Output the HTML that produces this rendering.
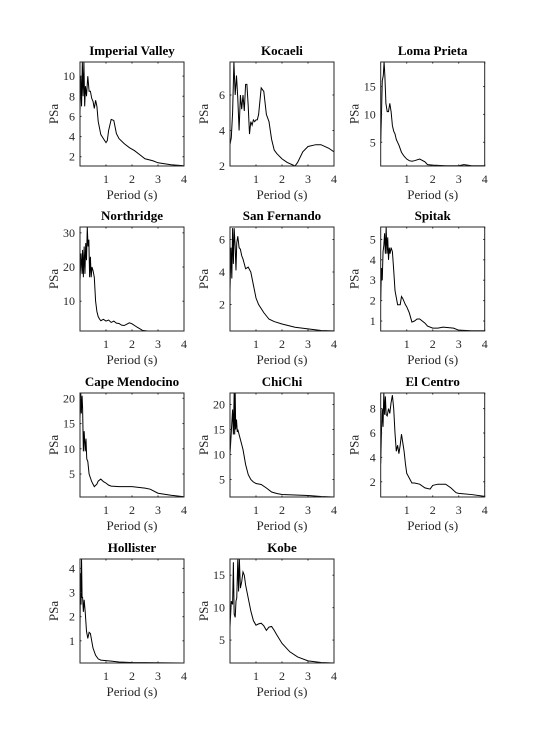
<!DOCTYPE html>
<html><head><meta charset="utf-8"><style>
html,body{margin:0;padding:0;background:#fff;}
svg{display:block;font-family:"Liberation Serif",serif;}
text{font-family:"Liberation Serif",serif;}
</style></head><body>
<svg id="fig" width="535" height="756" viewBox="0 0 535 756" xmlns="http://www.w3.org/2000/svg" font-family="Liberation Serif, serif"></svg>
<script>
const titles=["Imperial Valley","Kocaeli","Loma Prieta","Northridge","San Fernando","Spitak","Cape Mendocino","ChiChi","El Centro","Hollister","Kobe"];
const xTicks=[1,2,3,4];
const yRanges=[[1.08,11.4],[2,7.86],[0.75,19.4],[1.3,31.7],[0.37,6.77],[0.51,5.61],[0.45,21.05],[1.5,22.3],[0.75,9.28],[0.08,4.39],[1.47,17.5]];
const yTicks=[[2,4,6,8,10],[2,4,6],[5,10,15],[10,20,30],[2,4,6],[1,2,3,4,5],[5,10,15,20],[5,10,15,20],[2,4,6,8],[1,2,3,4],[5,10,15]];
const periodsIV=[0,0.03,0.06,0.09,0.12,0.15,0.18,0.21,0.25,0.3,0.35,0.4,0.45,0.5,0.55,0.6,0.65,0.7,0.8,0.9,1.0,1.05,1.1,1.2,1.3,1.4,1.5,1.7,1.9,2.1,2.3,2.5,2.8,3.0,3.5,4.0];
const psaIV=[6.4,10,7,11.4,8,11.4,7,9,8,10,8.5,8.5,7.8,7.5,6.8,7.6,7.0,5.5,4.2,3.8,3.4,3.6,4.6,5.7,5.6,4.3,3.8,3.3,2.9,2.6,2.2,1.8,1.6,1.4,1.2,1.1];
const periodsKO=[0,0.05,0.1,0.15,0.2,0.25,0.3,0.35,0.4,0.45,0.5,0.55,0.6,0.65,0.7,0.75,0.8,0.85,0.9,0.95,1.0,1.05,1.1,1.2,1.3,1.4,1.5,1.6,1.7,1.8,2.0,2.2,2.5,2.6,2.8,3.0,3.3,3.5,3.8,4.0];
const psaKO=[3.2,3.6,5,7.86,6,7.1,5.8,4,6,5.2,6.0,5.1,6.6,6.6,5.4,3.8,4.5,4.3,4.6,4.5,4.6,4.6,4.9,6.4,6.2,4.9,4.5,3.5,2.9,2.7,2.4,2.2,2.0,2.2,2.8,3.1,3.2,3.2,3.0,2.8];
const periodsLP=[0,0.03,0.06,0.1,0.13,0.16,0.2,0.25,0.3,0.35,0.4,0.45,0.5,0.55,0.6,0.65,0.7,0.8,0.9,1.0,1.1,1.2,1.3,1.5,1.7,1.8,2.0,2.5,3.0,3.2,3.5,4.0];
const psaLP=[5,10,16,17,19.4,17,12,10.5,10.5,12,10.5,8,7,6.5,5.5,5,4.5,3.2,2.5,2.0,1.7,1.6,1.7,2.0,1.5,1.0,0.9,0.8,0.8,1.0,0.8,0.8];
const periodsNR=[0,0.04,0.08,0.1,0.13,0.16,0.19,0.22,0.25,0.28,0.31,0.34,0.37,0.4,0.43,0.46,0.5,0.55,0.6,0.65,0.7,0.75,0.8,0.9,1.0,1.1,1.2,1.3,1.4,1.5,1.6,1.7,1.8,1.9,2.0,2.2,2.4,2.6,2.75,3.0,3.5,4.0];
const psaNR=[16,24,18,25,17,26,18,27,22,31.7,26,28,17,23,17,20,19,17,10,7,5.5,4.8,4.3,4.7,4.2,4.5,3.8,4.2,3.6,3.5,3.0,2.9,3.3,3.7,3.4,2.4,1.5,1.3,1.3,1.3,1.3,1.3];
const periodsSF=[0,0.04,0.07,0.1,0.13,0.16,0.2,0.23,0.26,0.3,0.35,0.4,0.45,0.5,0.6,0.7,0.8,0.9,1.0,1.1,1.3,1.5,1.7,2.0,2.5,3.0,3.5,4.0];
const psaSF=[2.8,5.5,3.6,6.7,4.5,6.7,5.5,4.1,5.8,6.2,5.5,5.4,5.0,4.8,4.2,4.3,4.0,3.2,2.4,2.0,1.5,1.1,0.95,0.8,0.6,0.5,0.4,0.38];
const periodsSP=[0,0.03,0.06,0.09,0.12,0.15,0.18,0.21,0.24,0.27,0.3,0.33,0.36,0.4,0.45,0.5,0.55,0.65,0.75,0.8,0.85,0.95,1.0,1.1,1.2,1.3,1.4,1.5,1.7,1.8,2.0,2.2,2.4,2.8,3.0,3.5,4.0];
const psaSP=[2,3.6,3,4.4,4.7,5.3,4.3,5.6,4.3,5.1,4.0,4.6,4.3,4.6,4.4,3.5,2.5,1.8,1.8,2.2,2.1,1.8,1.7,1.4,0.95,1.0,1.1,1.1,0.9,0.75,0.65,0.65,0.7,0.65,0.55,0.52,0.52];
const periodsCM=[0,0.03,0.05,0.08,0.1,0.13,0.16,0.2,0.23,0.26,0.3,0.35,0.45,0.55,0.65,0.7,0.8,0.9,1.0,1.1,1.2,1.5,2.0,2.5,2.7,3.0,3.5,4.0];
const psaCM=[16,21,17,20.5,18,9.5,13.5,9.5,12,8,7.5,5,3.5,2.5,3.0,3.6,4,3.5,3.2,2.8,2.6,2.5,2.5,2.2,2,1.2,0.8,0.5];
const periodsCC=[0,0.05,0.1,0.13,0.16,0.18,0.2,0.22,0.25,0.28,0.3,0.35,0.4,0.5,0.6,0.7,0.8,0.9,1.0,1.2,1.4,1.6,1.8,2.0,2.5,3.0,3.5,4.0];
const psaCC=[10,14.5,19,14,22.3,14,22.3,15,17,14.5,15,14,13,11,8,6,5,4.5,4.2,4,3.3,2.5,2.2,2.0,1.9,1.8,1.6,1.5];
const periodsEC=[0,0.03,0.06,0.09,0.12,0.15,0.18,0.21,0.25,0.3,0.35,0.4,0.45,0.5,0.55,0.6,0.65,0.7,0.75,0.8,0.85,0.9,0.95,1.0,1.1,1.2,1.3,1.5,1.7,1.9,2.0,2.2,2.5,2.7,2.9,3.0,3.5,4.0];
const psaEC=[3.5,6.2,8,6.5,9.3,7.5,9,7.5,7.4,8.0,7.6,8.5,9.1,8,6,4.5,5,4.3,5.0,5.9,5.2,4.5,3.5,2.7,2.3,1.9,1.9,1.8,1.5,1.4,1.7,1.8,1.8,1.5,1.1,1.05,0.95,0.8];
const periodsHO=[0,0.02,0.04,0.06,0.08,0.1,0.13,0.16,0.2,0.25,0.3,0.35,0.4,0.45,0.5,0.6,0.7,0.8,1.0,1.2,1.5,2.0,3.0,4.0];
const psaHO=[1.4,3.8,2.5,4.39,2.8,2.8,2.2,2.7,2.2,1.4,1.1,1.35,1.3,1.0,0.7,0.4,0.25,0.2,0.18,0.16,0.12,0.1,0.09,0.08];
const periodsKB=[0,0.05,0.1,0.13,0.16,0.2,0.23,0.26,0.3,0.33,0.36,0.4,0.45,0.5,0.55,0.6,0.7,0.8,0.9,1.0,1.1,1.2,1.3,1.4,1.5,1.6,1.7,1.8,2.0,2.3,2.6,3.0,3.5,4.0];
const psaKB=[7,11,10.5,17,9,8.5,11,11.5,17.5,12.5,17.5,13,14,15.5,15,13.5,11.5,9.5,8,7.3,7.5,7.6,7.2,6.5,7.0,7.1,6.5,5.8,4.5,3.2,2.4,1.8,1.55,1.47];
const periodSets=[periodsIV,periodsKO,periodsLP,periodsNR,periodsSF,periodsSP,periodsCM,periodsCC,periodsEC,periodsHO,periodsKB];
const psaSets=[psaIV,psaKO,psaLP,psaNR,psaSF,psaSP,psaCM,psaCC,psaEC,psaHO,psaKB];

const NS="http://www.w3.org/2000/svg";
const FF='"Liberation Serif", serif';
const fig=document.getElementById('fig');
const colX=[80,230,380.7], rowY=[62,227,393,559], W=104, H=104, XMIN=0, XMAX=4;
function mk(tag,attrs,parent){const e=document.createElementNS(NS,tag);for(const k in attrs)e.setAttribute(k,attrs[k]);parent.appendChild(e);return e;}
const defs=mk('defs',{},fig);
titles.forEach((t,i)=>{
  const x0=colX[i%3], y0=rowY[Math.floor(i/3)];
  const [ymin,ymax]=yRanges[i];
  const sx=v=>x0+(v-XMIN)/(XMAX-XMIN)*W;
  const sy=v=>y0+H-(v-ymin)/(ymax-ymin)*H;
  const g=mk('g',{},fig);
  
  
  const cp=mk('clipPath',{id:'c'+i},defs);
  mk('rect',{x:x0,y:y0,width:W,height:H},cp);
  const ps=periodSets[i], vs=psaSets[i], n=Math.min(ps.length,vs.length);
  let d='';
  for(let k=0;k<n;k++) d+=(k?'L':'M')+sx(ps[k]).toFixed(2)+','+sy(vs[k]).toFixed(2);
  const line=mk('path',{d:d,fill:'none',stroke:'#000','stroke-width':1,'clip-path':'url(#c'+i+')'},g);
  
  
  const box=mk('rect',{x:x0,y:y0,width:W,height:H,fill:'none',stroke:'#262626','stroke-width':1},g);
  
  
  xTicks.forEach(v=>{
    const X=sx(v);
    mk('line',{x1:X,y1:y0+H,x2:X,y2:y0+H-1.5,stroke:'#262626'},g);
    mk('line',{x1:X,y1:y0,x2:X,y2:y0+1.5,stroke:'#262626'},g);
    const tx=mk('text',{x:X,y:y0+H+17,'text-anchor':'middle','font-size':12,fill:'#262626','font-family':FF},g);
    tx.textContent=v;
    
    
  });
  yTicks[i].forEach(v=>{
    const Y=sy(v);
    mk('line',{x1:x0,y1:Y,x2:x0+1.5,y2:Y,stroke:'#262626'},g);
    mk('line',{x1:x0+W,y1:Y,x2:x0+W-1.5,y2:Y,stroke:'#262626'},g);
    const ty=mk('text',{x:x0-5,y:Y+4,'text-anchor':'end','font-size':12,fill:'#262626','font-family':FF},g);
    ty.textContent=v;
    
    
  });
  const ti=mk('text',{x:x0+W/2,y:y0-7,'text-anchor':'middle','font-size':13,'font-weight':'bold',fill:'#000','font-family':FF},g);
  ti.textContent=t;
  
  
  const xl=mk('text',{x:x0+W/2,y:y0+H+33,'text-anchor':'middle','font-size':13,fill:'#262626','font-family':FF},g);
  xl.textContent='Period (s)';
  
  
  const yc=y0+H/2, xc=x0-22;
  const yl=mk('text',{x:xc,y:yc,'text-anchor':'middle','font-size':13,fill:'#262626','font-family':FF,transform:'rotate(-90 '+xc+' '+yc+')'},g);
  yl.textContent='PSa';
  
  
});
</script>
</body></html>
